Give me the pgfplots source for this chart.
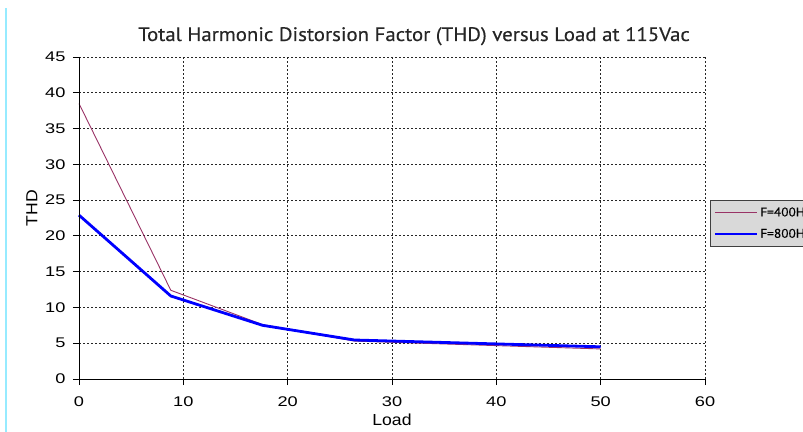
\documentclass[border=0pt]{standalone}
\usepackage{pgfplots}
\pgfplotsset{compat=1.18}
\usepackage{fontspec}
\setmainfont{Liberation Sans}
\newfontfamily\titlefont[FakeStretch=1.07, FakeBold=0.4]{PT Sans}
\newfontfamily\tickfont[FakeStretch=1.3]{Liberation Sans}
\newfontfamily\labelfont[FakeStretch=1.1]{Liberation Sans}

\definecolor{plum}{RGB}{153,51,102}
\definecolor{edgecyan}{RGB}{150,235,255}

\begin{document}
\begin{tikzpicture}
\path[use as bounding box] (0bp,0bp) rectangle (803bp,432bp);
\draw[edgecyan, line width=1.2bp] (6bp,0bp) -- (6bp,424bp);
\node[anchor=base, font=\titlefont\fontsize{19.5bp}{22bp}\selectfont, text=black!85]
  at (414bp,391bp) {Total Harmonic Distorsion Factor (THD) versus Load at 115Vac};
\begin{axis}[
    at={(79bp,53bp)}, anchor=south west,
    scale only axis, width=626bp, height=322bp,
    xmin=0, xmax=60, ymin=0, ymax=45,
    xtick={0,10,...,60}, ytick={0,5,...,45},
    axis line style={draw=none},
    tick align=outside, major tick length=6bp,
    tick style={black, line width=0.8bp},
    xtick pos=bottom, ytick pos=left,
    grid=major,
    major grid style={black!85, line width=0.8bp, dash pattern=on 2bp off 2bp},
    ticklabel style={font=\tickfont\fontsize{14bp}{16bp}\selectfont},
    xticklabel style={yshift=-8bp},
    yticklabel style={xshift=-4bp},
    /pgf/number format/assume math mode=true,
    xlabel={Load}, ylabel={THD},
    label style={font=\labelfont\fontsize{16bp}{18bp}\selectfont},
    xlabel style={at={(axis description cs:0.5,0)}, anchor=north, yshift=-31bp},
    ylabel style={at={(axis description cs:0,0.53)}, anchor=south, yshift=38bp},
    legend style={at={(axis description cs:1.008,0.556)}, anchor=north west,
      fill=black!15, draw=black!75, line width=1bp,
      font=\titlefont\fontsize{12.5bp}{14bp}\selectfont,
      inner xsep=3bp, inner ysep=5bp, row sep=7bp},
    legend cell align=left,
    legend image code/.code={\draw[#1] (0bp,0bp) -- (42bp,0bp);},
    clip=false,
  ]
  \addplot[plum, line width=0.9bp] coordinates {
    (0,38.5) (8.8,12.4) (17.6,7.6) (26.4,5.3) (50,4.2)
  };
  \addlegendentry{F=400Hz}
  \addplot[blue, line width=2.8bp] coordinates {
    (0,22.9) (8.8,11.6) (17.6,7.5) (26.4,5.45) (50,4.5)
  };
  \addlegendentry{F=800Hz}
  \draw[black, line width=0.9bp] (axis cs:0,45) -- (axis cs:0,0) -- (axis cs:60,0);
\end{axis}
\end{tikzpicture}
\end{document}
